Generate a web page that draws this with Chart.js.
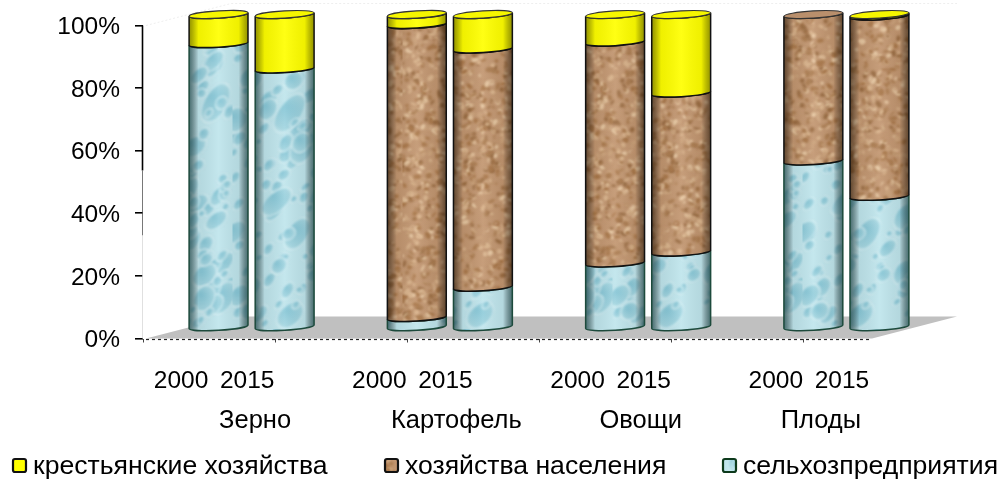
<!DOCTYPE html>
<html lang="ru">
<head>
<meta charset="utf-8">
<title>Структура производства</title>
<script src="https://cdn.jsdelivr.net/npm/chart.js@4"></script>
<style>
  html, body { margin: 0; padding: 0; background: #fff; }
  canvas { display: block; }
</style>
</head>
<body>
<canvas id="grafico" width="1000" height="479"></canvas>
<script>
// данные (% от общего объема)
const anos = ['2000', '2015', '', '2000', '2015', '', '2000', '2015', '', '2000', '2015'];
const culturas = ['Зерно', 'Картофель', 'Овощи', 'Плоды'];
const selhoz = [90.7, 82.6, null, 3.2, 12.9, null, 20.6, 24.1, null, 53.2, 41.9];
const naselenie = [0, 0, null, 93.6, 76.1, null, 70.6, 50.8, null, 46.8, 57.6];
const krestyane = [9.3, 17.4, null, 3.2, 11, null, 8.8, 25.1, null, 0, 0.5];

const fonte = '"Liberation Sans", Arial, sans-serif';
const tamFonte = 24.5;

// псевдо-3D: сдвиг столбиков и пола относительно осей
const barDx = 42.5, barDy = -11;
const floorDx = 85, floorDy = -22;
const elipseRy = 3.6, elipseRot = Math.atan(-3.5 / 59);

// текстуры (только оформление, не данные)
let semente = 12345;
function rnd() {
  semente = (semente * 16807) % 2147483647;
  return semente / 2147483647;
}

function texturaAgua() {
  const c = document.createElement('canvas');
  c.width = 190; c.height = 340;
  const g = c.getContext('2d');
  g.fillStyle = '#bfe5ec';
  g.fillRect(0, 0, c.width, c.height);
  g.filter = 'blur(1px)';
  for (let i = 0; i < 260; i++) {
    const x = rnd() * 190, y = rnd() * 340;
    const rx = 3 + rnd() * rnd() * 9, ry = rx * (1.2 + rnd() * 0.8);
    const grad = g.createRadialGradient(x - rx * 0.3, y - ry * 0.3, 0.5, x, y, ry);
    grad.addColorStop(0, '#86c6d6');
    grad.addColorStop(0.8, '#a4d6e1');
    grad.addColorStop(1, '#cbebf0');
    g.fillStyle = grad;
    g.beginPath();
    g.ellipse(x, y, rx, ry, 0.5 + rnd() * 0.4, 0, Math.PI * 2);
    g.fill();
    g.strokeStyle = 'rgba(222,244,248,0.75)';
    g.lineWidth = 1.2;
    g.stroke();
  }
  g.filter = 'none';
  return c;
}

function texturaCortica() {
  const c = document.createElement('canvas');
  c.width = 180; c.height = 340;
  const g = c.getContext('2d');
  g.fillStyle = '#c29670';
  g.fillRect(0, 0, c.width, c.height);
  const cores = ['#9a6c42', '#ab7c50', '#dab48c', '#e6c6a0', '#a87648', '#cba27a', '#c29670'];
  g.filter = 'blur(1.1px)';
  for (let i = 0; i < 2600; i++) {
    g.fillStyle = cores[Math.floor(rnd() * cores.length)];
    g.beginPath();
    g.ellipse(rnd() * 180, rnd() * 340, 1 + rnd() * 3, 0.8 + rnd() * 1.8, rnd() * 3, 0, Math.PI * 2);
    g.fill();
  }
  g.filter = 'none';
  return c;
}

const ctxBase = document.getElementById('grafico').getContext('2d');
const padraoAgua = ctxBase.createPattern(texturaAgua(), 'repeat');
const padraoCortica = ctxBase.createPattern(texturaCortica(), 'repeat');

// как рисовать каждый ряд: заливка, крышка, контур
const estilos = [
  { fill: padraoAgua, tampa: '#a9d9e6', linha: '#1d4a3c', escuro: 'rgba(20,60,60,0.7)' },
  { fill: padraoCortica, tampa: '#b98f6c', linha: '#111', escuro: 'rgba(30,15,0,0.6)' },
  { fill: '#ffff00', tampa: '#f6f600', linha: '#111', escuro: 'rgba(40,40,0,0.5)' }
];

function segmentoPath(ctx, cx, rx, yTopo, yBase) {
  ctx.beginPath();
  ctx.ellipse(cx, yBase, rx, elipseRy, elipseRot, Math.PI, 0, true);
  ctx.ellipse(cx, yTopo, rx, elipseRy, elipseRot, 0, Math.PI, false);
  ctx.closePath();
}

const cilindros = {
  id: 'cilindros',
  beforeDatasetsDraw(chart) {
    const { ctx, chartArea: a } = chart;
    ctx.save();
    // пол
    ctx.fillStyle = '#c0c0c0';
    ctx.beginPath();
    ctx.moveTo(a.left + 3, a.bottom);
    ctx.lineTo(a.right + 2, a.bottom);
    ctx.lineTo(a.right + 2 + floorDx, a.bottom + floorDy);
    ctx.lineTo(a.left + 3 + floorDx, a.bottom + floorDy);
    ctx.closePath();
    ctx.fill();
    // едва заметная задняя стенка
    ctx.strokeStyle = '#eeeeee';
    ctx.lineWidth = 1;
    ctx.setLineDash([2, 2]);
    ctx.beginPath();
    ctx.moveTo(a.left + 3, a.top);
    ctx.lineTo(a.left + 3 + floorDx, a.top + floorDy);
    ctx.lineTo(a.right + 2 + floorDx, a.top + floorDy);
    ctx.stroke();
    // ось X пунктиром
    ctx.strokeStyle = '#222';
    ctx.lineWidth = 1.2;
    ctx.setLineDash([3, 3]);
    ctx.beginPath();
    ctx.moveTo(a.left + 3, a.bottom + 1);
    ctx.lineTo(a.right + 2, a.bottom + 1);
    ctx.stroke();
    ctx.setLineDash([]);
    // ось Y: сверху сплошная, ниже почти пропадает
    const corte = a.top + 145;
    ctx.strokeStyle = '#000';
    ctx.lineWidth = 1.6;
    ctx.beginPath();
    ctx.moveTo(a.left - 0.5, a.top);
    ctx.lineTo(a.left - 0.5, corte);
    ctx.stroke();
    ctx.strokeStyle = '#555';
    ctx.lineWidth = 0.8;
    ctx.beginPath();
    ctx.moveTo(a.left - 0.5, corte);
    ctx.lineTo(a.left - 0.5, corte + 65);
    ctx.stroke();
    ctx.strokeStyle = '#d8d8d8';
    ctx.beginPath();
    ctx.moveTo(a.left - 0.5, corte + 65);
    ctx.lineTo(a.left - 0.5, a.bottom);
    ctx.stroke();
    ctx.restore();
  },
  afterDatasetsDraw(chart) {
    const { ctx } = chart;
    const total = chart.data.labels.length;
    ctx.save();
    ctx.translate(barDx, barDy);
    for (let i = 0; i < total; i++) {
      let topo = null;
      chart.data.datasets.forEach((ds, d) => {
        if (!ds.data[i]) return;
        const el = chart.getDatasetMeta(d).data[i];
        const st = estilos[d];
        const rx = el.width / 2;
        const esq = el.x - rx, dir = el.x + rx;
        // тело сегмента с текстурой
        segmentoPath(ctx, el.x, rx, el.y, el.base);
        ctx.fillStyle = st.fill;
        ctx.fill();
        // затемнение по краям цилиндра
        const sombra = ctx.createLinearGradient(esq, 0, dir, 0);
        sombra.addColorStop(0, st.escuro);
        sombra.addColorStop(0.16, 'rgba(0,0,0,0.06)');
        sombra.addColorStop(0.5, 'rgba(255,255,255,0.08)');
        sombra.addColorStop(0.84, 'rgba(0,0,0,0.06)');
        sombra.addColorStop(1, st.escuro);
        ctx.fillStyle = sombra;
        ctx.fill();
        ctx.strokeStyle = st.linha;
        ctx.lineWidth = 1.5;
        ctx.stroke();
        topo = { el, st, rx, esq, dir };
      });
      if (!topo) continue;
      // крышка самого верхнего сегмента
      ctx.beginPath();
      ctx.ellipse(topo.el.x, topo.el.y, topo.rx, elipseRy, elipseRot, 0, Math.PI * 2);
      ctx.fillStyle = topo.st.tampa;
      ctx.fill();
      ctx.strokeStyle = '#333';
      ctx.lineWidth = 1.1;
      ctx.stroke();
    }
    ctx.restore();
  },
  afterDraw(chart) {
    const { ctx, scales } = chart;
    ctx.save();
    ctx.fillStyle = '#000';
    ctx.font = '25.5px ' + fonte;
    ctx.textBaseline = 'middle';
    // подписи культур
    ctx.textAlign = 'center';
    const ajustes = [46, 49, 35, 17];
    culturas.forEach((nome, k) => {
      const meio = (scales.x.getPixelForValue(k * 3) + scales.x.getPixelForValue(k * 3 + 1)) / 2;
      ctx.fillText(nome, meio + ajustes[k], 421);
    });
    // легенда
    ctx.textAlign = 'left';
    ctx.font = '26.6px ' + fonte;
    const caixas = [{ d: 2, x: 12 }, { d: 1, x: 384 }, { d: 0, x: 722 }];
    caixas.forEach(c => {
      ctx.fillStyle = estilos[c.d].fill;
      ctx.strokeStyle = c.d === 0 ? '#0d3a1c' : '#111';
      ctx.lineWidth = 2.2;
      ctx.beginPath();
      ctx.roundRect(c.x + 1, 459, 13, 13, 2);
      ctx.fill();
      ctx.stroke();
      ctx.fillStyle = '#000';
      ctx.fillText(chart.data.datasets[c.d].label, c.x + 21, 467);
    });
    ctx.restore();
  }
};

new Chart(ctxBase, {
  type: 'bar',
  data: {
    labels: anos,
    datasets: [
      { label: 'сельхозпредприятия', data: selhoz },
      { label: 'хозяйства населения', data: naselenie },
      { label: 'крестьянские хозяйства', data: krestyane }
    ].map(ds => ({ ...ds, backgroundColor: 'rgba(0,0,0,0)', borderWidth: 0, barPercentage: 59 / 66.09, categoryPercentage: 1 }))
  },
  plugins: [cilindros],
  options: {
    responsive: false,
    animation: false,
    events: [],
    layout: { padding: { left: 0, right: 130, top: 25.5, bottom: 0 } },
    plugins: { legend: { display: false }, tooltip: { enabled: false } },
    scales: {
      x: {
        stacked: true,
        border: { display: false },
        afterFit(scale) { scale.height = 140.5; },
        grid: {
          offset: true,
          drawOnChartArea: false,
          tickLength: 4,
          tickColor: c => (c.index % 2 === 0 ? '#444' : 'rgba(0,0,0,0)')
        },
        ticks: {
          autoSkip: false,
          maxRotation: 0,
          minRotation: 0,
          labelOffset: 5,
          padding: 24,
          color: '#000',
          font: { family: fonte, size: tamFonte }
        }
      },
      y: {
        stacked: true,
        min: 0,
        max: 100,
        border: { display: false },
        afterFit(scale) { scale.width = 143; scale.paddingTop = 0; scale.paddingBottom = 0; },
        grid: { drawOnChartArea: false, tickLength: 8, tickColor: '#000', lineWidth: 1.6 },
        ticks: {
          stepSize: 20,
          padding: 15,
          labelOffset: 2,
          color: '#000',
          font: { family: fonte, size: tamFonte },
          callback: v => v + '%'
        }
      }
    }
  }
});
</script>
</body>
</html>
